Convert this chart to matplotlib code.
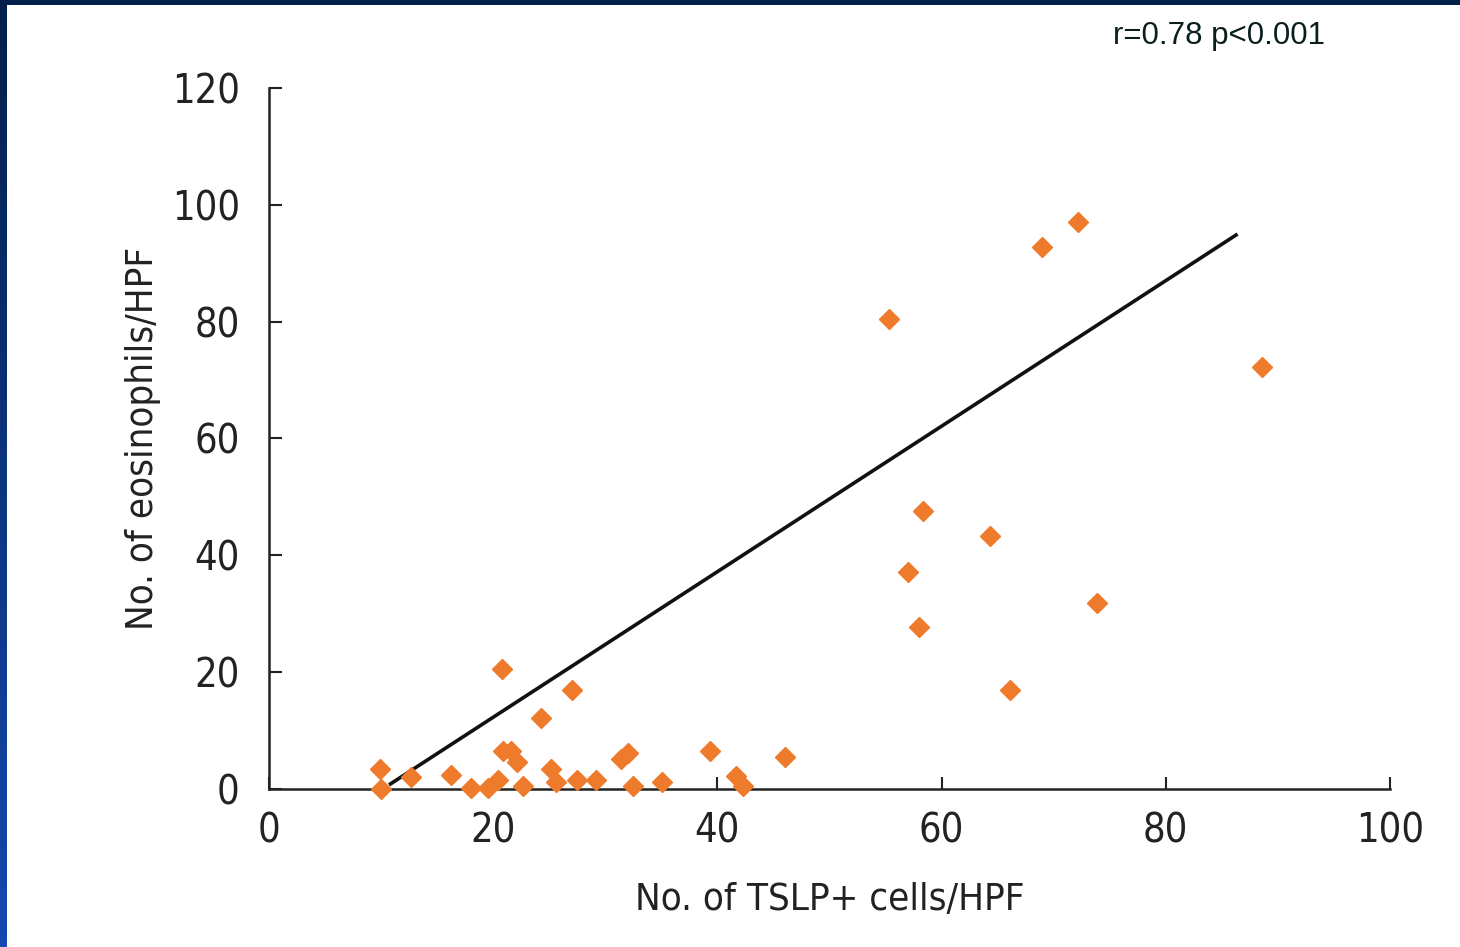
import numpy as np
import matplotlib
matplotlib.use("Agg")
import matplotlib.pyplot as plt
from matplotlib import font_manager

# TSLP+ cells per HPF vs eosinophils per HPF
tslp = [9.9, 10.0, 12.7, 16.2, 18.0, 19.5, 20.4, 20.8, 20.9, 21.6, 22.1, 22.7,
        24.3, 25.2, 25.6, 27.0, 27.5, 29.2, 31.4, 32.0, 32.5, 35.1, 39.3, 41.7,
        42.3, 46.0, 55.3, 57.0, 58.0, 58.3, 64.3, 66.1, 69.0, 72.2, 73.9, 88.6]
eos = [3.4, 0.0, 2.1, 2.4, 0.2, 0.2, 1.5, 20.5, 6.5, 6.5, 4.6, 0.5,
       12.2, 3.4, 1.2, 16.9, 1.5, 1.5, 5.1, 6.2, 0.5, 1.2, 6.5, 2.2,
       0.5, 5.5, 80.5, 37.1, 27.7, 47.6, 43.3, 16.9, 92.8, 97.1, 31.8, 72.2]

# regression line end points
fit_x = [10.7, 86.4]
fit_y = [0.7, 95.0]

xticks = [0, 20, 40, 60, 80, 100]
yticks = [0, 20, 40, 60, 80, 100, 120]


def condensed_font():
    # look for a narrow / condensed sans face among installed fonts
    prefs = ['LiberationSansNarrow-Regular', 'DejaVuSansCondensed.', 'RobotoCondensed-Regular',
             'OpenSans_Condensed-Regular', 'OpenSansCondensed']
    files = [f.fname for f in font_manager.fontManager.ttflist]
    for p in prefs:
        for fn in files:
            if p.lower() in fn.lower():
                return font_manager.FontProperties(fname=fn)
    for f in font_manager.fontManager.ttflist:
        low = f.fname.lower()
        if ('narrow' in low or 'condensed' in low) and 'bold' not in low and 'italic' not in low \
                and 'light' not in low and 'oblique' not in low:
            return font_manager.FontProperties(fname=f.fname)
    return font_manager.FontProperties(family='DejaVu Sans', stretch='condensed')


fp = condensed_font()
tick_fp = fp.copy()
tick_fp.set_size(28.5)
lab_fp = fp.copy()
lab_fp.set_size(27.5)

fig = plt.figure(figsize=(14.6, 9.47), dpi=100)
fig.patch.set_facecolor('white')

# dark blue frame on top and left
top = fig.add_axes([0, 1 - 5 / 947, 1, 5 / 947])
top.add_patch(plt.Rectangle((0, 0), 1, 1, color='#02204a', transform=top.transAxes))
top.axis('off')
left = fig.add_axes([0, 0, 7 / 1460, 1])
grad = np.linspace(0, 1, 256).reshape(-1, 1)
cmap = matplotlib.colors.LinearSegmentedColormap.from_list('frame', ['#02204a', '#1548b0'])
left.imshow(grad, aspect='auto', cmap=cmap, extent=[0, 1, 0, 1], origin='upper')
left.axis('off')

ax = fig.add_axes([269 / 1460, 1 - 789 / 947, (1390 - 269) / 1460, (789 - 88) / 947])

ax.plot(fit_x, fit_y, color='#111111', lw=2.6, solid_capstyle='butt', zorder=2)
ax.plot(tslp, eos, 'D', color='#ee7a2c', ms=10.5, mec='#ee7a2c', clip_on=False, zorder=3)

ax.set_xlim(0, 100)
ax.set_ylim(0, 120)
ax.set_xticks(xticks)
ax.set_yticks(yticks)

for s in ['top', 'right']:
    ax.spines[s].set_visible(False)
for s in ['left', 'bottom']:
    ax.spines[s].set_color('#222222')
    ax.spines[s].set_linewidth(1.8)

ax.tick_params(axis='both', direction='in', length=9, width=1.5, colors='#222222')
ax.tick_params(axis='y', pad=21)
ax.tick_params(axis='x', pad=16)
for lab in ax.get_xticklabels() + ax.get_yticklabels():
    lab.set_fontproperties(tick_fp)
    lab.set_color('#222222')

ax.set_xlabel('No. of TSLP+ cells/HPF', fontproperties=lab_fp, color='#222222', labelpad=22)
ax.set_ylabel('No. of eosinophils/HPF', fontproperties=lab_fp, color='#222222', labelpad=8)

fig.text(1113 / 1460, 1 - 36 / 947, 'r=0.78 p<0.001', family=['Liberation Sans', 'DejaVu Sans'],
         fontsize=22.5, color='#0a1e1e', ha='left', va='center')

fig.savefig('out.png', dpi=100, facecolor='white')
